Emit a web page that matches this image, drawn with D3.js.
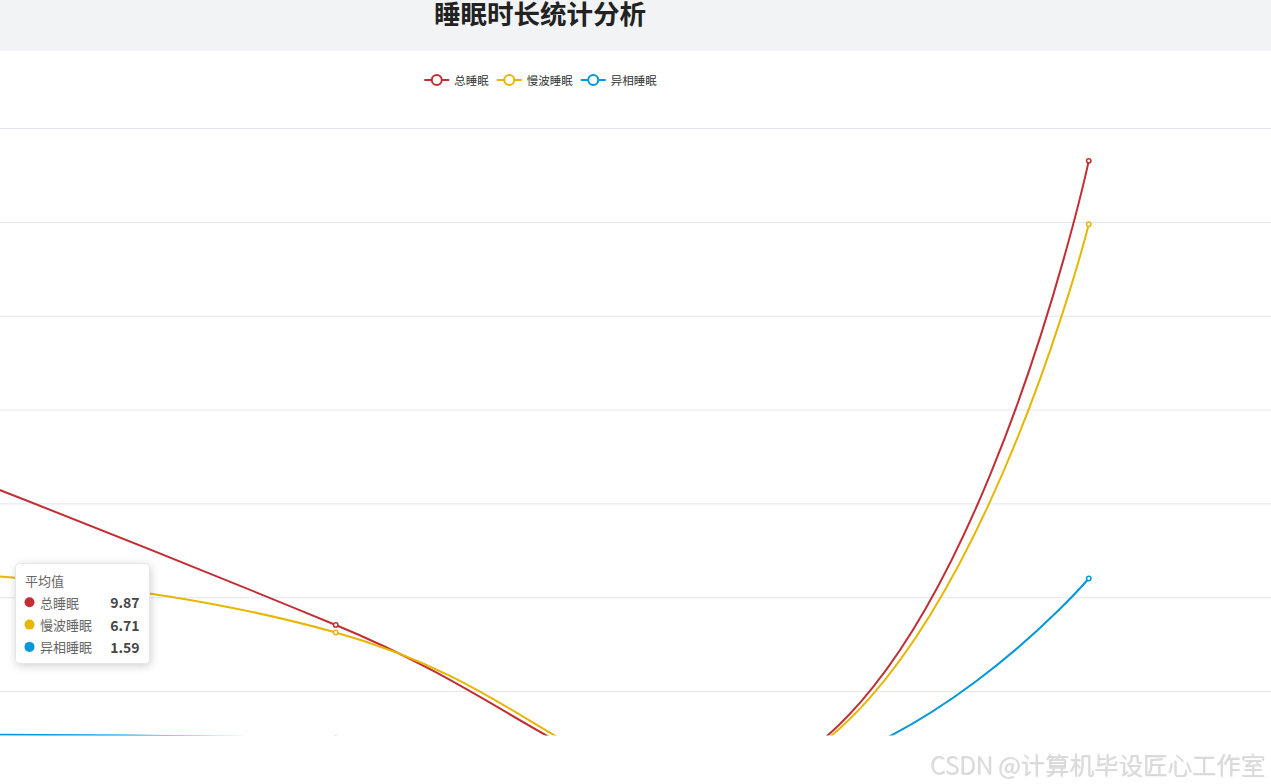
<!DOCTYPE html>
<html>
<head>
<meta charset="utf-8">
<script src="https://cdn.jsdelivr.net/npm/d3@7"></script>
<style>
  html, body { margin: 0; padding: 0; background: #ffffff; overflow: hidden; }
  svg { display: block; font-family: "Noto Sans CJK SC", "Noto Sans", sans-serif; }
</style>
</head>
<body>
<svg id="chart" width="1271" height="784"></svg>
<script>
// ---------- data ----------
const titleText = "睡眠时长统计分析";
const categories = ["第1周", "第2周", "第3周", "第4周"];
const seriesNames = ["总睡眠", "慢波睡眠", "异相睡眠"];
const totalSleep = [6.62, 3.41, 0, 13.30];
const slowWaveSleep = [4.49, 3.25, 0, 11.95];
const remSleep = [1.07, 0.99, 0, 4.40];
const yTicks = [2, 4, 6, 8, 10, 12, 14];
const tooltipTitle = "平均值";
const averages = [9.87, 6.71, 1.59];
const watermark = "CSDN @计算机毕设匠心工作室";
const colors = ["#c12e34", "#e6b600", "#0098d9"];

// ---------- layout ----------
const W = 1271, H = 784;
const gridLeft = -229, gridRight = 1277, gridTop = 128, gridBottom = 785;
const visibleBottom = 735.5;

const svg = d3.select("#chart");

// header band
svg.append("rect").attr("x", 0).attr("y", 0).attr("width", W).attr("height", 51).attr("fill", "#f1f3f4");
svg.append("text").attr("x", 540).attr("y", 12).attr("text-anchor", "middle")
  .attr("dominant-baseline", "central")
  .attr("font-size", 26.5).attr("font-weight", "bold").attr("fill", "#222")
  .text(titleText);

// scales
const x = d3.scalePoint().domain(categories).range([gridLeft, gridRight]).padding(0.5);
const y = d3.scaleLinear().domain([0, 14]).range([gridBottom, gridTop]);

// grid lines via axis (axis labels lie outside the visible crop, so not drawn)
const yAxis = d3.axisLeft(y).tickValues(yTicks).tickSize(-(gridRight - gridLeft)).tickFormat("");
const gAxis = svg.append("g").attr("transform", `translate(${gridLeft},0)`).call(yAxis);
gAxis.select(".domain").remove();
gAxis.selectAll(".tick text").remove();
gAxis.selectAll(".tick line").attr("stroke", "#e2e4ea").attr("stroke-width", 1);

// ECharts-like smooth curve (smooth = 0.5 with control-point clamping)
function EchartsSmooth(context) { this._context = context; }
EchartsSmooth.prototype = {
  areaStart() { this._line = 0; },
  areaEnd() { this._line = NaN; },
  lineStart() { this._pts = []; },
  point(px, py) { this._pts.push([+px, +py]); },
  lineEnd() {
    const p = this._pts, n = p.length, c = this._context, s = 0.5;
    if (!n) return;
    c.moveTo(p[0][0], p[0][1]);
    let cp0x = p[0][0], cp0y = p[0][1];
    for (let i = 1; i < n; i++) {
      const px = p[i - 1][0], py = p[i - 1][1], cx = p[i][0], cy = p[i][1];
      let cp1x, cp1y, ncx = cx, ncy = cy;
      if (i === n - 1) { cp1x = cx; cp1y = cy; }
      else {
        const nx = p[i + 1][0], ny = p[i + 1][1];
        let vx = nx - px, vy = ny - py;
        const l0 = Math.hypot(cx - px, cy - py), l1 = Math.hypot(nx - cx, ny - cy);
        const r = l1 / (l0 + l1);
        ncx = cx + vx * s * r; ncy = cy + vy * s * r;
        ncx = Math.min(ncx, Math.max(nx, cx)); ncy = Math.min(ncy, Math.max(ny, cy));
        ncx = Math.max(ncx, Math.min(nx, cx)); ncy = Math.max(ncy, Math.min(ny, cy));
        vx = ncx - cx; vy = ncy - cy;
        cp1x = cx - vx * l0 / l1; cp1y = cy - vy * l0 / l1;
        cp1x = Math.min(cp1x, Math.max(px, cx)); cp1y = Math.min(cp1y, Math.max(py, cy));
        cp1x = Math.max(cp1x, Math.min(px, cx)); cp1y = Math.max(cp1y, Math.min(py, cy));
        vx = cx - cp1x; vy = cy - cp1y;
        ncx = cx + vx * l1 / l0; ncy = cy + vy * l1 / l0;
      }
      c.bezierCurveTo(cp0x, cp0y, cp1x, cp1y, cx, cy);
      cp0x = ncx; cp0y = ncy;
    }
  }
};
const curveEcharts = ctx => new EchartsSmooth(ctx);

// clip
svg.append("clipPath").attr("id", "plotClip")
  .append("rect").attr("x", -400).attr("y", 0).attr("width", W + 800).attr("height", visibleBottom);

const series = [totalSleep, slowWaveSleep, remSleep].map((vals, i) => ({
  name: seriesNames[i], color: colors[i],
  pts: categories.map((c, j) => ({ c, v: vals[j] }))
}));

const line = d3.line().x(d => x(d.c)).y(d => y(d.v)).curve(curveEcharts);
const gSeries = svg.append("g").attr("clip-path", "url(#plotClip)");
series.forEach(s => {
  const g = gSeries.append("g");
  g.append("path").attr("d", line(s.pts)).attr("fill", "none")
    .attr("stroke", s.color).attr("stroke-width", 2);
  g.selectAll("circle").data(s.pts).join("circle")
    .attr("cx", d => x(d.c)).attr("cy", d => y(d.v)).attr("r", 2.2)
    .attr("fill", "#fff").attr("stroke", s.color).attr("stroke-width", 1.5);
});

// legend
const legend = svg.append("g");
let lx = 0;
series.forEach((s, i) => {
  const g = legend.append("g").attr("transform", `translate(${lx},80)`);
  g.append("line").attr("x1", 0).attr("x2", 25).attr("y1", 0).attr("y2", 0)
    .attr("stroke", s.color).attr("stroke-width", 2);
  g.append("circle").attr("cx", 12.5).attr("cy", 0).attr("r", 5)
    .attr("fill", "#fff").attr("stroke", s.color).attr("stroke-width", 2);
  const t = g.append("text").attr("x", 30).attr("y", 0).attr("dominant-baseline", "central")
    .attr("font-size", 11.5).attr("fill", "#333").text(s.name);
  const tw = t.node().getComputedTextLength();
  lx += 30 + tw + 8;
});
const legendW = lx - 8;
legend.attr("transform", `translate(${540.5 - legendW / 2},0)`);

// tooltip
const defs = svg.append("defs");
const f = defs.append("filter").attr("id", "tipShadow").attr("x", "-30%").attr("y", "-30%").attr("width", "160%").attr("height", "160%");
f.append("feDropShadow").attr("dx", 1).attr("dy", 2).attr("stdDeviation", 4).attr("flood-color", "#000").attr("flood-opacity", 0.18);
const tip = svg.append("g").attr("transform", "translate(15.5,563.5)");
tip.append("rect").attr("width", 134).attr("height", 100).attr("rx", 4)
  .attr("fill", "#fff").attr("stroke", "#e6e6e6").attr("stroke-width", 1).attr("filter", "url(#tipShadow)");
tip.append("text").attr("x", 9.5).attr("y", 16.5).attr("dominant-baseline", "central")
  .attr("font-size", 13).attr("fill", "#666").text(tooltipTitle);
series.forEach((s, i) => {
  const ry = 38.8 + i * 22.3;
  tip.append("circle").attr("cx", 14).attr("cy", ry).attr("r", 5).attr("fill", s.color);
  tip.append("text").attr("x", 24.5).attr("y", ry).attr("dominant-baseline", "central")
    .attr("font-size", 13).attr("fill", "#666").text(s.name);
  tip.append("text").attr("x", 124).attr("y", ry).attr("dominant-baseline", "central")
    .attr("text-anchor", "end").attr("font-size", 14).attr("font-weight", "bold").attr("fill", "#464646")
    .text(d3.format(".2f")(averages[i]));
});

// watermark
const wf = defs.append("filter").attr("id", "wmShadow");
wf.append("feDropShadow").attr("dx", 0.6).attr("dy", 0.6).attr("stdDeviation", 0.4).attr("flood-color", "#9a9a9a").attr("flood-opacity", 0.6);
svg.append("text").attr("x", 930).attr("y", 763).attr("dominant-baseline", "central")
  .attr("font-size", 24).attr("font-weight", 300).attr("fill", "#dcdcdc").attr("filter", "url(#wmShadow)")
  .attr("textLength", 335).attr("lengthAdjust", "spacingAndGlyphs")
  .text(watermark);
</script>
</body>
</html>
